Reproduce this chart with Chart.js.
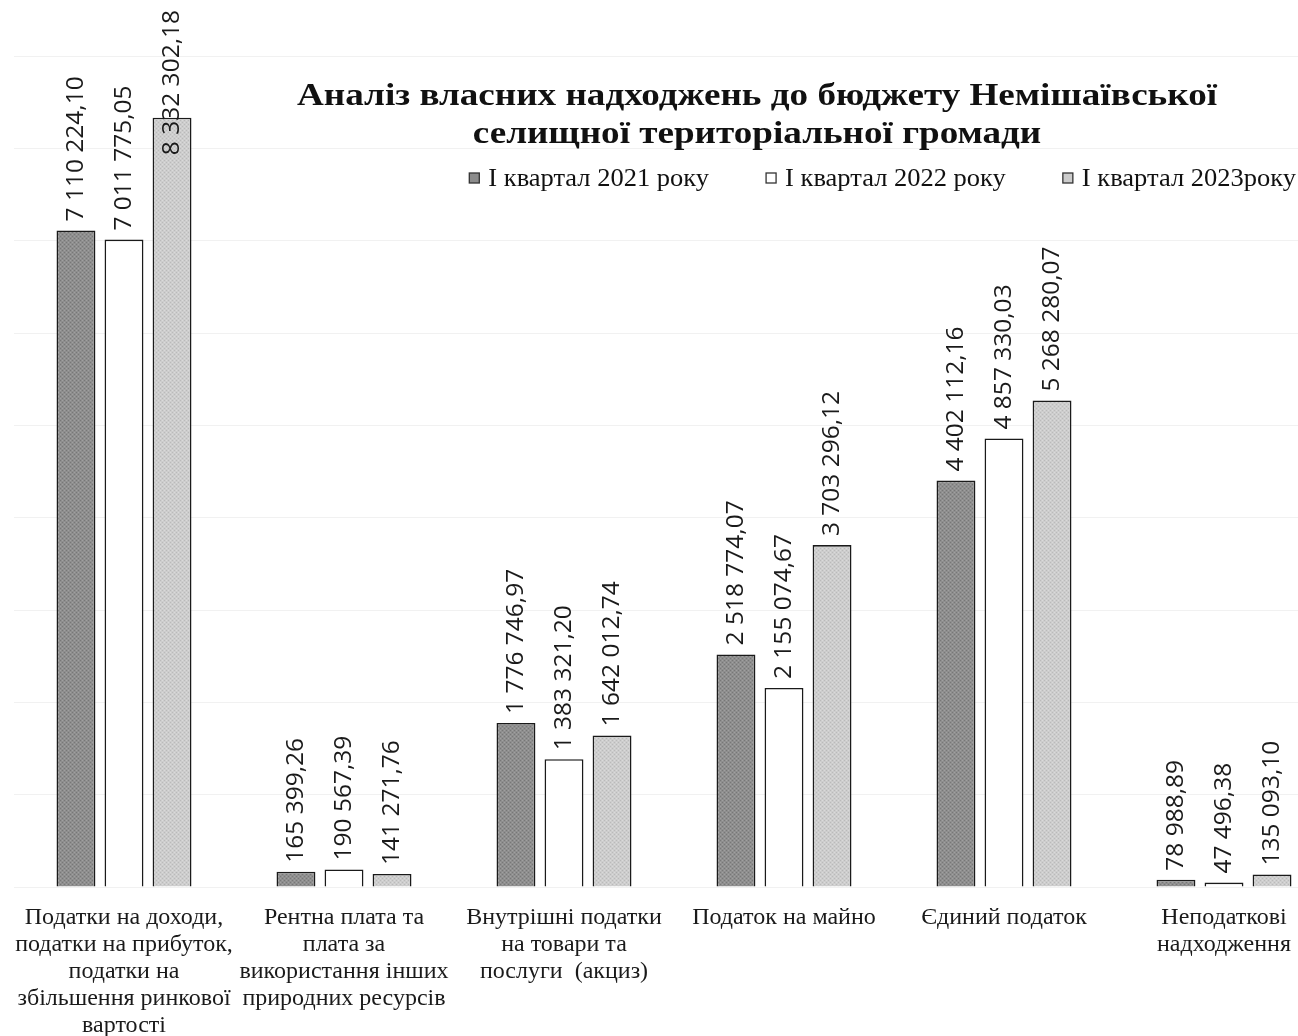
<!DOCTYPE html>
<html>
<head>
<meta charset="utf-8">
<script src="https://cdn.jsdelivr.net/npm/chart.js@4.4.1/dist/chart.umd.min.js"></script>
<style>
html, body { margin: 0; padding: 0; background: #fff; overflow: hidden; }
#wrap { width: 1340px; height: 1036px; }
</style>
</head>
<body>
<div id="wrap"><canvas id="mychart" width="1340" height="1036"></canvas></div>
<script>
var categories = [
    ["Податки на доходи,", "податки на прибуток,", "податки на", "збільшення ринкової", "вартості"],
    ["Рентна плата та", "плата за", "використання інших", "природних ресурсів"],
    ["Внутрішні податки", "на товари та", "послуги  (акциз)"],
    ["Податок на майно"],
    ["Єдиний податок"],
    ["Неподаткові", "надходження"]
]
var seriesNames = ["І квартал 2021 року", "І квартал 2022 року", "І квартал 2023року"]
var q2021 = [7110224.10, 165399.26, 1776746.97, 2518774.07, 4402112.16, 78988.89]
var q2022 = [7011775.05, 190567.39, 1383321.20, 2155074.67, 4857330.03, 47496.38]
var q2023 = [8332302.18, 141271.76, 1642012.74, 3703296.12, 5268280.07, 135093.10]
var titleLines = ["Аналіз власних надходжень до бюджету Немішаївської", "селищної територіальної громади"]

// dotted fill like the scanned print
function dots(base, dark, light){
    var c = document.createElement("canvas")
    c.width = 4; c.height = 4
    var g = c.getContext("2d")
    g.fillStyle = base; g.fillRect(0, 0, 4, 4)
    g.fillStyle = dark; g.fillRect(0, 0, 1, 1); g.fillRect(2, 2, 1, 1)
    g.fillStyle = light; g.fillRect(2, 0, 1, 1); g.fillRect(0, 2, 1, 1)
    return g.createPattern(c, "repeat")
}

function fmt(v){
    var p = v.toFixed(2).split(".")
    return p[0].replace(/\B(?=(\d{3})+(?!\d))/g, " ") + "," + p[1]
}

var legendColors = ["#8c8c8c", "#ffffff", "#cccccc"]

var valueLabels = {
    id: "valueLabels",
    afterDatasetsDraw: function(chart){
        var ctx = chart.ctx
        ctx.save()
        ctx.font = "24.5px 'Open Sans'"
        ctx.fillStyle = "#1a1a1a"
        ctx.textAlign = "left"
        ctx.textBaseline = "middle"
        chart.data.datasets.forEach(function(ds, i){
            chart.getDatasetMeta(i).data.forEach(function(bar, j){
                var txt = fmt(ds.data[j])
                var w = ctx.measureText(txt).width
                var bottom = bar.y - 9
                if (bottom - w < 10) bottom = 10 + w
                ctx.save()
                ctx.translate(bar.x, bottom)
                ctx.rotate(-Math.PI / 2)
                ctx.fillText(txt, 0, 0)
                ctx.restore()
            })
        })
        ctx.restore()
    }
}

var titleLegend = {
    id: "titleLegend",
    afterDraw: function(chart){
        var ctx = chart.ctx
        ctx.save()
        ctx.fillStyle = "#111"
        ctx.textAlign = "center"
        ctx.textBaseline = "middle"
        ctx.font = "bold 32px 'Liberation Serif'"
        ctx.save()
        ctx.translate(757, 0)
        ctx.scale(1.16, 1)
        ctx.fillText(titleLines[0], 0, 97)
        ctx.fillText(titleLines[1], 0, 135)
        ctx.restore()

        ctx.font = "25px 'Liberation Serif'"
        ctx.textAlign = "left"
        var sx = 1.06
        var widths = seriesNames.map(function(s){ return ctx.measureText(s).width * sx })
        var box = 10, gap = 9, itemGap = 57
        var total = 0
        widths.forEach(function(w){ total += box + gap + w })
        total += itemGap * (widths.length - 1)
        var x = 1296 - total, y = 178
        seriesNames.forEach(function(s, i){
            ctx.fillStyle = legendColors[i]
            ctx.fillRect(x, y - box / 2, box, box)
            ctx.strokeStyle = "#333"
            ctx.lineWidth = 1.3
            ctx.strokeRect(x, y - box / 2, box, box)
            ctx.fillStyle = "#111"
            ctx.save()
            ctx.translate(x + box + gap, y + 1)
            ctx.scale(sx, 1)
            ctx.fillText(s, 0, 0)
            ctx.restore()
            x += box + gap + widths[i] + itemGap
        })
        ctx.restore()
    }
}

var myChart = document.getElementById("mychart").getContext("2d")

var chart = new Chart(myChart, {
    type: "bar",
    data: {
        labels: categories,
        datasets: [
            {
                label: seriesNames[0],
                data: q2021,
                backgroundColor: dots("#8e8e8e", "#777777", "#a0a0a0"),
                borderColor: "#1a1a1a",
                borderWidth: 1.6
            },
            {
                label: seriesNames[1],
                data: q2022,
                backgroundColor: "#ffffff",
                borderColor: "#1a1a1a",
                borderWidth: 1.6
            },
            {
                label: seriesNames[2],
                data: q2023,
                backgroundColor: dots("#cdcdcd", "#bababa", "#dadada"),
                borderColor: "#1a1a1a",
                borderWidth: 1.6
            }
        ]
    },
    options: {
        responsive: false,
        animation: false,
        layout: { padding: { top: 56, left: 14, right: 6, bottom: 0 } },
        plugins: {
            legend: { display: false },
            title: { display: false },
            tooltip: { enabled: false }
        },
        datasets: {
            bar: { categoryPercentage: 0.655, barPercentage: 0.81 }
        },
        scales: {
            x: {
                grid: { display: false },
                border: { display: false },
                ticks: {
                    color: "#1a1a1a",
                    font: { family: "'Liberation Serif'", size: 24, lineHeight: 1.13 },
                    padding: 9,
                    maxRotation: 0,
                    autoSkip: false
                },
                afterFit: function(scale){ scale.height = 149 }
            },
            y: {
                min: 0,
                max: 9000000,
                ticks: { display: false, stepSize: 1000000 },
                grid: { color: "#f1f1f1", drawTicks: false },
                border: { display: false },
                afterFit: function(scale){ scale.width = 0 }
            }
        }
    },
    plugins: [valueLabels, titleLegend]
})
</script>
</body>
</html>
